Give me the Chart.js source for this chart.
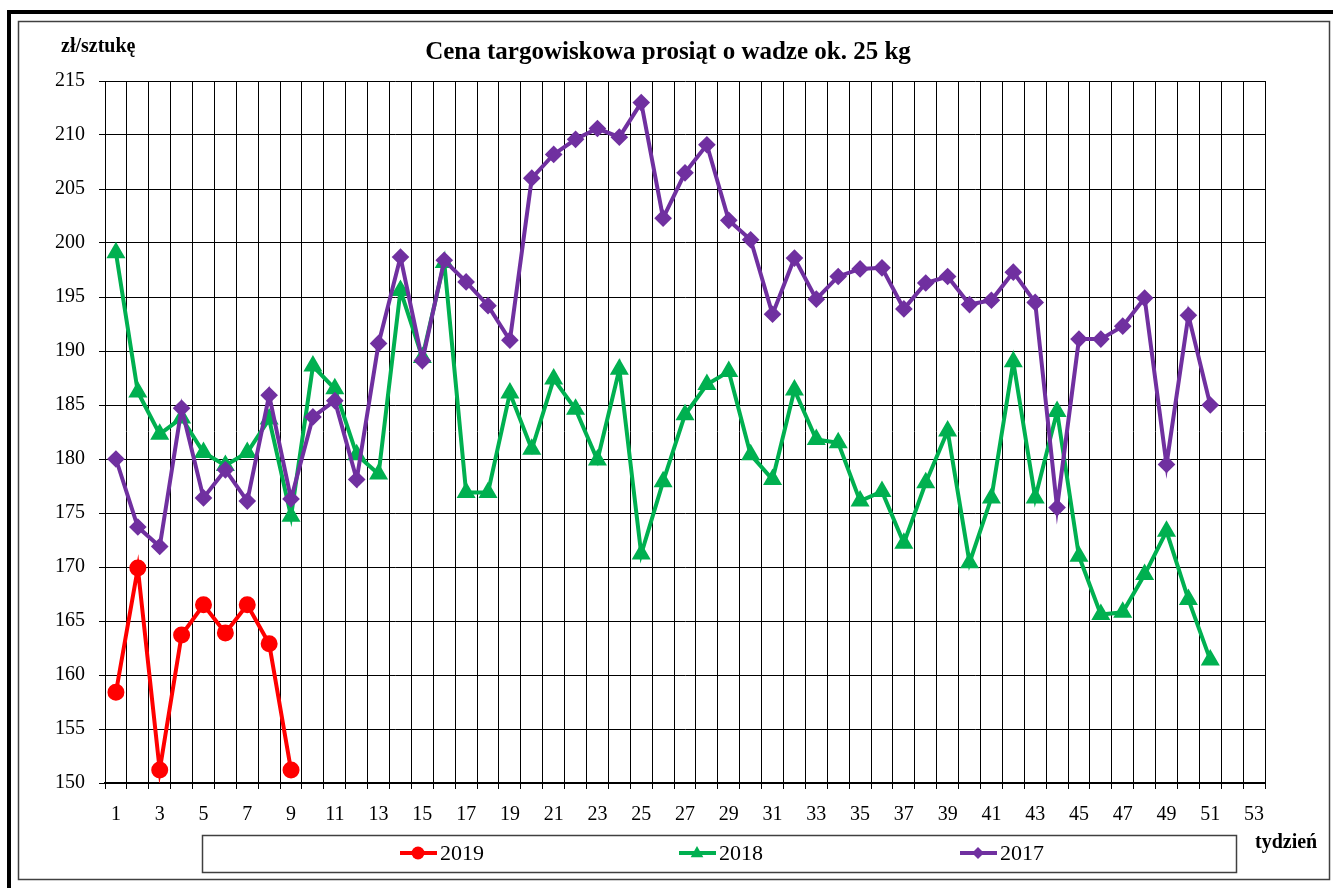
<!DOCTYPE html>
<html>
<head>
<meta charset="utf-8">
<script src="https://cdn.jsdelivr.net/npm/chart.js@4.4.1/dist/chart.umd.min.js"></script>
<style>
  html, body { margin: 0; padding: 0; background: #fff; }
  #wrap { width: 1333px; height: 888px; }
</style>
</head>
<body>
<div id="wrap"><canvas id="chart" width="1333" height="888"></canvas></div>
<script>
const weeks = ['1','2','3','4','5','6','7','8','9','10','11','12','13','14','15','16','17','18','19','20',
  '21','22','23','24','25','26','27','28','29','30','31','32','33','34','35','36','37','38','39','40',
  '41','42','43','44','45','46','47','48','49','50','51','52','53'];

const y2019 = [158.4, 169.9, 151.2, 163.7, 166.5, 163.9, 166.5, 162.9, 151.2];

const y2018 = [199.1, 186.2, 182.3, 183.8, 180.6, 179.4, 180.6, 183.7, 174.7, 188.6,
  186.5, 180.4, 178.6, 195.6, 189.4, 198.2, 176.9, 176.9, 186.1, 180.9,
  187.4, 184.6, 179.9, 188.3, 171.2, 177.9, 184.1, 186.9, 188.1, 180.4,
  178.1, 186.4, 181.8, 181.5, 176.1, 177.0, 172.2, 177.8, 182.6, 170.4,
  176.4, 189.0, 176.4, 184.4, 171.0, 165.6, 165.8, 169.3, 173.3, 167.0, 161.4];

const y2017 = [180.0, 173.7, 171.9, 184.7, 176.4, 179.0, 176.1, 185.9, 176.3, 183.9,
  185.4, 178.1, 190.7, 198.7, 189.1, 198.4, 196.4, 194.2, 191.0, 206.0,
  208.2, 209.6, 210.6, 209.8, 213.0, 202.3, 206.5, 209.1, 202.1, 200.3,
  193.4, 198.6, 194.8, 196.9, 197.6, 197.7, 193.9, 196.3, 196.9, 194.3,
  194.7, 197.3, 194.5, 175.5, 191.1, 191.1, 192.3, 194.9, 179.5, 193.3, 185.0];

const seriesNames = ['2019', '2018', '2017'];
const yTicks = { min: 150, max: 215, step: 5 };

Chart.defaults.font.family = '"Liberation Serif", "Times New Roman", serif';
Chart.defaults.color = '#000';

function marker(ctx, style, x, y, r, color) {
  ctx.save();
  ctx.fillStyle = color;
  ctx.beginPath();
  if (style === 'circle') {
    ctx.arc(x, y, r, 0, Math.PI * 2);
  } else if (style === 'triangle') {
    ctx.moveTo(x, y - r);
    ctx.lineTo(x + r * 0.9, y + r * 0.6);
    ctx.lineTo(x - r * 0.9, y + r * 0.6);
  } else {
    ctx.moveTo(x, y - r);
    ctx.lineTo(x + r, y);
    ctx.lineTo(x, y + r);
    ctx.lineTo(x - r, y);
  }
  ctx.closePath();
  ctx.fill();
  ctx.restore();
}

const decor = {
  id: 'decor',
  beforeDraw(chart) {
    const ctx = chart.ctx;
    ctx.save();
    ctx.fillStyle = '#fff';
    ctx.fillRect(0, 0, chart.width, chart.height);
    ctx.restore();
  },
  afterDraw(chart) {
    const ctx = chart.ctx;
    ctx.save();
    // outer frame
    ctx.fillStyle = '#000';
    ctx.fillRect(7, 10, 4, 878);
    ctx.fillRect(7, 10, 1326, 4);
    ctx.strokeStyle = '#404040';
    ctx.lineWidth = 1.5;
    ctx.strokeRect(18.5, 21.5, 1311, 858);

    // title and axis captions
    ctx.fillStyle = '#000';
    ctx.textBaseline = 'middle';
    ctx.textAlign = 'center';
    ctx.font = 'bold 25px "Liberation Serif"';
    ctx.fillText('Cena targowiskowa prosiąt o wadze ok. 25 kg', 668, 53);
    ctx.textAlign = 'left';
    ctx.font = 'bold 20px "Liberation Serif"';
    ctx.fillText('zł/sztukę', 61, 47);
    ctx.fillText('tydzień', 1255, 843);

    // legend box
    ctx.strokeStyle = '#404040';
    ctx.lineWidth = 1.5;
    ctx.strokeRect(202.5, 835.5, 1034, 37);
    const centers = [418, 697, 978];
    const ly = 853;
    chart.data.datasets.forEach((ds, i) => {
      const cx = centers[i];
      ctx.strokeStyle = ds.borderColor;
      ctx.lineWidth = 4;
      ctx.beginPath();
      ctx.moveTo(cx - 18, ly);
      ctx.lineTo(cx + 19, ly);
      ctx.stroke();
      marker(ctx, ds.pointStyle, cx, ly, ds.pointRadius, ds.borderColor);
      ctx.fillStyle = '#000';
      ctx.font = '22px "Liberation Serif"';
      ctx.textAlign = 'left';
      ctx.fillText(ds.label, cx + 22, ly + 1);
    });
    ctx.restore();
  }
};

const config = {
  type: 'line',
  data: {
    labels: weeks,
    datasets: [
      {
        label: seriesNames[0],
        data: y2019,
        borderColor: '#FF0000',
        backgroundColor: '#FF0000',
        borderWidth: 4,
        pointStyle: 'circle',
        pointRadius: 6.5,
        order: 2
      },
      {
        label: seriesNames[1],
        data: y2018,
        borderColor: '#00B050',
        backgroundColor: '#00B050',
        borderWidth: 4,
        pointStyle: 'triangle',
        pointRadius: 7,
        order: 1
      },
      {
        label: seriesNames[2],
        data: y2017,
        borderColor: '#7030A0',
        backgroundColor: '#7030A0',
        borderWidth: 4,
        pointStyle: 'rectRot',
        pointRadius: 6,
        order: 0
      }
    ]
  },
  options: {
    responsive: false,
    animation: false,
    layout: {
      padding: { left: 20, top: 81, right: 68, bottom: 60 }
    },
    plugins: {
      legend: { display: false },
      title: { display: false },
      tooltip: { enabled: false }
    },
    elements: {
      line: { tension: 0 },
      point: { borderWidth: 0 }
    },
    scales: {
      x: {
        offset: true,
        grid: {
          offset: true,
          color: '#000',
          lineWidth: 1,
          tickLength: 6,
          drawTicks: true
        },
        border: { color: '#000', width: 2 },
        ticks: {
          autoSkip: false,
          maxRotation: 0,
          padding: 14,
          font: { size: 20 },
          callback: (v, i) => (i % 2 === 0 ? weeks[i] : '')
        },
        afterFit: (s) => { s.height = 45; }
      },
      y: {
        min: yTicks.min,
        max: yTicks.max,
        grid: {
          color: '#000',
          lineWidth: 1,
          tickLength: 6
        },
        border: { color: '#000', width: 1 },
        ticks: {
          stepSize: yTicks.step,
          padding: 14,
          font: { size: 20 }
        },
        afterFit: (s) => { s.width = 85; }
      }
    }
  },
  plugins: [decor]
};

var chart = new Chart(document.getElementById('chart'), config);
</script>
</body>
</html>
